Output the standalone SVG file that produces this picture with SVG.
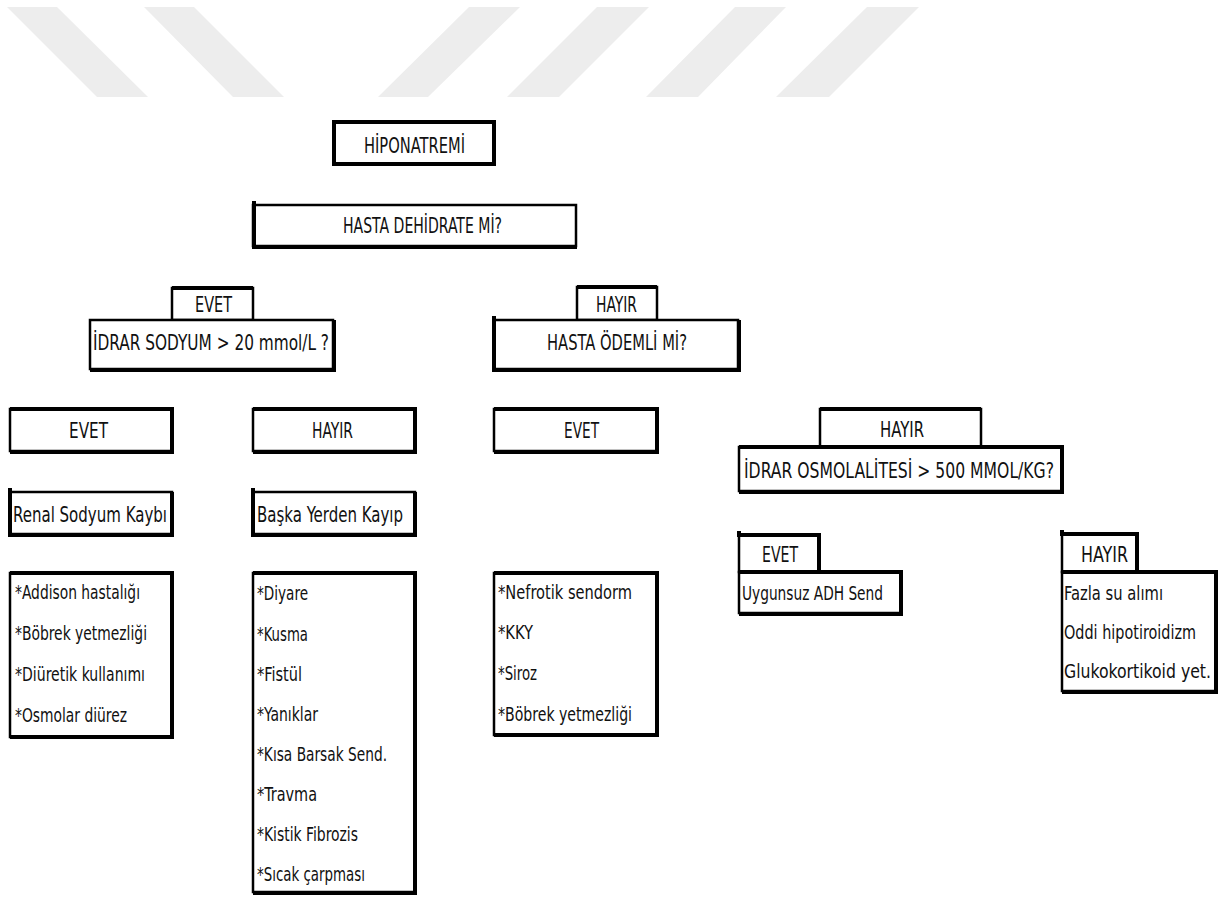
<svg xmlns="http://www.w3.org/2000/svg" width="1232" height="897" viewBox="0 0 1232 897">
<style>
.wm{fill:#ededed}
.b{fill:#fff;stroke:#000;stroke-width:2.5}
.tk{fill:none;stroke:#000;stroke-width:4}
.t{font-family:"Liberation Sans Narrow","DejaVu Sans Condensed","Liberation Sans",sans-serif;font-size:21px;fill:#111}
.l{font-family:"Liberation Sans Narrow","DejaVu Sans Condensed","Liberation Sans",sans-serif;font-size:20px;fill:#111}
</style>
<rect width="1232" height="897" fill="#fff"/>
<g id="watermark">
<polygon class="wm" points="7,7 57,7 148,97 97,97"/>
<polygon class="wm" points="144,7 194,7 284,97 233,97"/>
<polygon class="wm" points="469,7 520,7 428,97 378,97"/>
<polygon class="wm" points="597,7 649,7 559,97 507,97"/>
<polygon class="wm" points="735,7 786,7 698,97 646,97"/>
<polygon class="wm" points="867,7 919,7 829,97 776,97"/>
</g>
<g id="connectors"></g>

<g id="n-hiponatremi">
<rect x="334" y="122" width="160" height="42" fill="#fff" stroke="#000" stroke-width="4"/>
<text class="t" x="364" y="153" textLength="101" lengthAdjust="spacingAndGlyphs">HİPONATREMİ</text>
</g>

<g id="n-dehidrate">
<rect class="b" x="253" y="205" width="323" height="41"/>
<path class="tk" d="M254 201 V247 H577"/>
<text class="t" x="343" y="233" textLength="159" lengthAdjust="spacingAndGlyphs">HASTA DEHİDRATE Mİ?</text>
</g>

<g id="n-evet1">
<rect class="b" x="172" y="288" width="81" height="32"/>
<path class="tk" d="M172 288 H253"/>
<text class="t" x="195" y="312" textLength="37" lengthAdjust="spacingAndGlyphs">EVET</text>
</g>
<g id="n-idrar-sodyum">
<rect class="b" x="90" y="320" width="243" height="49"/>
<path class="tk" d="M90 370 H334 V320"/>
<text class="t" x="93" y="350" textLength="236" lengthAdjust="spacingAndGlyphs">İDRAR SODYUM &gt; 20 mmol/L ?</text>
</g>

<g id="n-hayir1">
<rect class="b" x="577" y="287" width="80" height="33"/>
<path class="tk" d="M577 287 H657"/>
<text class="t" x="596" y="312" textLength="41" lengthAdjust="spacingAndGlyphs">HAYIR</text>
</g>
<g id="n-odemli">
<rect class="b" x="494" y="320" width="244" height="49"/>
<path class="tk" d="M494 316 V370 H739 V320"/>
<text class="t" x="547" y="350" textLength="140" lengthAdjust="spacingAndGlyphs">HASTA ÖDEMLİ Mİ?</text>
</g>

<g id="n-evet2">
<rect class="b" x="10" y="409" width="162" height="42"/>
<path class="tk" d="M10 409 H172 V452 H10"/>
<text class="t" x="69" y="438" textLength="39" lengthAdjust="spacingAndGlyphs">EVET</text>
</g>
<g id="n-hayir2">
<rect class="b" x="253" y="409" width="162" height="42"/>
<path class="tk" d="M253 409 H415 V452 H253"/>
<text class="t" x="312" y="438" textLength="41" lengthAdjust="spacingAndGlyphs">HAYIR</text>
</g>
<g id="n-evet3">
<rect class="b" x="494" y="409" width="163" height="42"/>
<path class="tk" d="M494 409 H657 V452 H494"/>
<text class="t" x="564" y="438" textLength="35" lengthAdjust="spacingAndGlyphs">EVET</text>
</g>

<g id="n-hayir3">
<rect class="b" x="820" y="409" width="161" height="38"/>
<path class="tk" d="M820 409 H981"/>
<text class="t" x="880" y="437" textLength="44" lengthAdjust="spacingAndGlyphs">HAYIR</text>
</g>
<g id="n-osmolalite">
<rect class="b" x="739" y="447" width="323" height="44"/>
<path class="tk" d="M739 447 H1062 V492 H739"/>
<text class="t" x="744" y="478" textLength="310" lengthAdjust="spacingAndGlyphs">İDRAR OSMOLALİTESİ &gt; 500 MMOL/KG?</text>
</g>

<g id="n-renal">
<rect class="b" x="10" y="492" width="162" height="42"/>
<path class="tk" d="M10 488 V535 H172 V492"/>
<text class="t" x="13" y="522" textLength="154" lengthAdjust="spacingAndGlyphs">Renal Sodyum Kaybı</text>
</g>
<g id="n-baska">
<rect class="b" x="253" y="492" width="162" height="42"/>
<path class="tk" d="M253 488 V535 H415 V492"/>
<text class="t" x="257" y="522" textLength="146" lengthAdjust="spacingAndGlyphs">Başka Yerden Kayıp</text>
</g>

<g id="n-list-renal">
<rect class="b" x="10" y="573" width="162" height="164"/>
<path class="tk" d="M10 573 H172 V737 H10"/>
<text class="l" x="15" y="599" textLength="125" lengthAdjust="spacingAndGlyphs">*Addison hastalığı</text>
<text class="l" x="15" y="640" textLength="132" lengthAdjust="spacingAndGlyphs">*Böbrek yetmezliği</text>
<text class="l" x="15" y="681" textLength="130" lengthAdjust="spacingAndGlyphs">*Diüretik kullanımı</text>
<text class="l" x="15" y="722" textLength="112" lengthAdjust="spacingAndGlyphs">*Osmolar diürez</text>
</g>

<g id="n-list-baska">
<rect class="b" x="253" y="573" width="162" height="319"/>
<path class="tk" d="M253 573 H415 V893 H253"/>
<text class="l" x="257" y="600" textLength="51" lengthAdjust="spacingAndGlyphs">*Diyare</text>
<text class="l" x="257" y="641" textLength="51" lengthAdjust="spacingAndGlyphs">*Kusma</text>
<text class="l" x="257" y="681" textLength="45" lengthAdjust="spacingAndGlyphs">*Fistül</text>
<text class="l" x="257" y="721" textLength="61" lengthAdjust="spacingAndGlyphs">*Yanıklar</text>
<text class="l" x="257" y="761" textLength="130" lengthAdjust="spacingAndGlyphs">*Kısa Barsak Send.</text>
<text class="l" x="257" y="801" textLength="60" lengthAdjust="spacingAndGlyphs">*Travma</text>
<text class="l" x="257" y="841" textLength="101" lengthAdjust="spacingAndGlyphs">*Kistik Fibrozis</text>
<text class="l" x="257" y="881" textLength="108" lengthAdjust="spacingAndGlyphs">*Sıcak çarpması</text>
</g>

<g id="n-list-odem">
<rect class="b" x="494" y="573" width="163" height="162"/>
<path class="tk" d="M494 573 H657 V735 H494"/>
<text class="l" x="498" y="599" textLength="134" lengthAdjust="spacingAndGlyphs">*Nefrotik sendorm</text>
<text class="l" x="498" y="639" textLength="35" lengthAdjust="spacingAndGlyphs">*KKY</text>
<text class="l" x="498" y="680" textLength="39" lengthAdjust="spacingAndGlyphs">*Siroz</text>
<text class="l" x="498" y="721" textLength="134" lengthAdjust="spacingAndGlyphs">*Böbrek yetmezliği</text>
</g>

<g id="n-evet4">
<rect class="b" x="739" y="535" width="80" height="37"/>
<path class="tk" d="M739 531 V535 H819 V572"/>
<text class="t" x="762" y="562" textLength="36" lengthAdjust="spacingAndGlyphs">EVET</text>
</g>
<g id="n-uygunsuz">
<rect class="b" x="739" y="572" width="162" height="41"/>
<path class="tk" d="M739 572 H901 V614 H739"/>
<text class="l" x="742" y="600" textLength="141" lengthAdjust="spacingAndGlyphs">Uygunsuz ADH Send</text>
</g>

<g id="n-hayir4">
<rect class="b" x="1062" y="534" width="75" height="38"/>
<path class="tk" d="M1062 530 V534 H1137 V572"/>
<text class="t" x="1081" y="562" textLength="47" lengthAdjust="spacingAndGlyphs">HAYIR</text>
</g>
<g id="n-list-hayir">
<rect class="b" x="1062" y="572" width="154" height="119"/>
<path class="tk" d="M1062 572 H1216 V692 H1062"/>
<text class="l" x="1064" y="600" textLength="99" lengthAdjust="spacingAndGlyphs">Fazla su alımı</text>
<text class="l" x="1064" y="639" textLength="132" lengthAdjust="spacingAndGlyphs">Oddi hipotiroidizm</text>
<text class="l" x="1064" y="678" textLength="147" lengthAdjust="spacingAndGlyphs">Glukokortikoid yet.</text>
</g>
</svg>
